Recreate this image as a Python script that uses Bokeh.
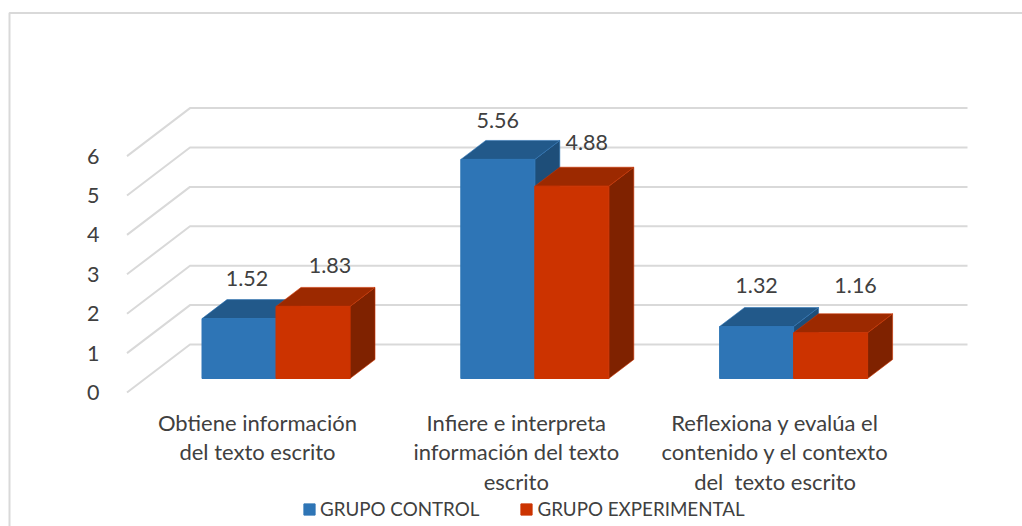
from bokeh.plotting import figure
from bokeh.models import ColumnDataSource, FixedTicker, Legend, LegendItem, Range1d
from bokeh.core.properties import value
from bokeh.embed import file_html
from bokeh.resources import INLINE

# ---- data ----
categories = ["Obtiene información\ndel texto escrito",
              "Infiere e interpreta\ninformación del texto\nescrito",
              "Reflexiona y evalúa el\ncontenido y el contexto\ndel\u00a0 texto escrito"]
series_names = ["GRUPO CONTROL", "GRUPO EXPERIMENTAL"]
grupo_control = [1.52, 5.56, 1.32]
grupo_experimental = [1.83, 4.88, 1.16]
y_ticks = [0, 1, 2, 3, 4, 5, 6]

# ---- style ----
FONT = "Lato"
TXT = "#404040"
GRID = "#d9d9d9"
BLUE = ("#2e75b6", "#22598a", "#1e4e79")
RED = ("#cc3300", "#9c2900", "#7f2200")

W, H, MARGIN = 1022, 526, 0
PX_X = 258.8          # pixels per category
PX_Y = 39.4           # pixels per value unit
ZERO_X, ZERO_Y = 257, 392   # page pixel of category 0 / value 0

px = lambda d: d / PX_X
py = lambda d: d / PX_Y
X = lambda page: (page - ZERO_X) / PX_X
Y = lambda page: (ZERO_Y - page) / PX_Y

p = figure(width=W, height=H, output_backend="svg", toolbar_location=None,
           x_range=Range1d(X(MARGIN), X(MARGIN + W)),
           y_range=Range1d(Y(MARGIN + H), Y(MARGIN)),
           min_border_left=0, min_border_top=0, min_border_right=0, min_border_bottom=0)
p.outline_line_color = None
p.grid.visible = False

# chart frame: top and left edges only
p.line([X(9), X(9), X(MARGIN + W)], [Y(MARGIN + H), Y(12.5), Y(12.5)], line_color=GRID, line_width=2)

# 3D wall gridlines
x_front, x_back, x_end = X(126.5), X(189.5), X(967)
rise = py(48)
p.multi_line([[x_front, x_back, x_end] for _ in y_ticks],
             [[t, t + rise, t + rise] for t in y_ticks],
             line_color=GRID, line_width=2)

# 3D bars
bar_shift, bar_floor = px(18.5), py(14)
bw = px(74)
dx, dy = px(25), py(19)


def bar(x0, v, cols):
    x1 = x0 + bw
    y0, y1 = bar_floor, v + bar_floor
    front, top, side = cols
    p.patch([x1, x1 + dx, x1 + dx, x1], [y0, y0 + dy, y1 + dy, y1], fill_color=side, line_color=front, line_alpha=0.6, line_width=1)
    p.patch([x0, x0 + dx, x1 + dx, x1], [y1, y1 + dy, y1 + dy, y1], fill_color=top, line_color=front, line_alpha=0.6, line_width=1)
    return p.quad(left=[x0], right=[x1], bottom=[y0], top=[y1], fill_color=front, line_color=front, line_width=1)


r_blue = r_red = None
for i in range(3):
    c = i + bar_shift
    r_blue = bar(c - bw, grupo_control[i], BLUE)
    r_red = bar(c, grupo_experimental[i], RED)

# data labels
lab_x = [i + bar_shift - bw / 2 + px(o) for i, o in enumerate([8, 0, 0])] + \
        [i + bar_shift + bw / 2 + px(o) for i, o in enumerate([17, 15, 25])]
vals = grupo_control + grupo_experimental
lab_y = [v + bar_floor + py(o) for v, o in zip(vals, [40, 39, 41, 41, 44, 47])]
src = ColumnDataSource(dict(x=lab_x, y=lab_y, t=[f"{v:.2f}" for v in vals]))
p.text("x", "y", text="t", source=src, text_font=value(FONT), text_font_size="21.5px",
       text_color=TXT, text_align="center", text_baseline="middle")

# axes
p.yaxis.fixed_location = X(115)
p.yaxis.ticker = FixedTicker(ticks=y_ticks)
p.yaxis.axis_line_color = None
p.yaxis.major_tick_line_color = None
p.yaxis.minor_tick_line_color = None
p.yaxis.major_label_text_font = FONT
p.yaxis.major_label_text_font_size = "21.5px"
p.yaxis.major_label_text_color = TXT
p.yaxis.major_label_standoff = 10

p.xaxis.fixed_location = Y(400)
p.xaxis.ticker = FixedTicker(ticks=[0, 1, 2])
p.xaxis.major_label_overrides = {i: c for i, c in enumerate(categories)}
p.xaxis.axis_line_color = None
p.xaxis.major_tick_line_color = None
p.xaxis.minor_tick_line_color = None
p.xaxis.major_label_text_font = FONT
p.xaxis.major_label_text_font_size = "22px"
p.xaxis.major_label_text_color = TXT
p.xaxis.major_label_text_line_height = 1.1
p.xaxis.major_label_standoff = 2

leg = Legend(items=[LegendItem(label=series_names[0], renderers=[r_blue]),
                    LegendItem(label=series_names[1], renderers=[r_red])],
             orientation="horizontal", location=(302 - MARGIN, 6), border_line_color=None,
             background_fill_alpha=0, label_text_font=FONT, label_text_font_size="18.8px",
             label_text_color=TXT, glyph_width=14, glyph_height=14, spacing=40, margin=0, padding=0,
             label_standoff=4)
p.add_layout(leg, "center")

open("out.html", "w").write(file_html(p, INLINE))
